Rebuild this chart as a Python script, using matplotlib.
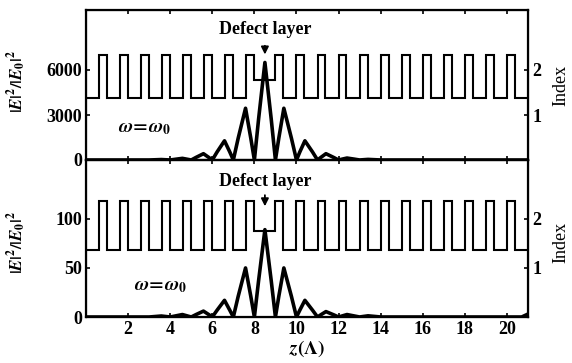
import numpy as np
import matplotlib.pyplot as plt

plt.rcParams['font.family'] = ['Liberation Serif', 'DejaVu Serif']
plt.rcParams['font.weight'] = 'bold'
plt.rcParams['mathtext.fontset'] = 'stix'

# layer stack: L/H quarter-wave pairs, one defect layer in the middle
layers = list("LH" * 8) + ["D"] + list("HL" * 12)
thick = {"L": 0.625, "H": 0.375, "D": 1.0}
index_top = {"L": 1.38, "H": 2.33, "D": 1.78}
index_bot = {"L": 1.37, "H": 2.37, "D": 1.76}

# field intensity
z_field = [0, 3, 3.23, 3.58, 3.83, 4, 4.23, 4.58, 4.83, 5, 5.23, 5.58, 5.83,
           6, 6.23, 6.58, 6.83, 7, 7.23, 7.58, 7.83, 8, 8.2, 8.5, 8.8,
           9, 9.16, 9.4, 9.76, 10, 10.16, 10.4, 10.76, 11, 11.16, 11.4, 11.76,
           12, 12.16, 12.4, 12.76, 13, 13.16, 13.4, 13.76, 14, 20.7, 21]
E_top = [0, 0, 12, 30, 12, 0, 45, 110, 45, 0, 175, 420, 175,
         0, 540, 1280, 540, 0, 1450, 3450, 1450, 0, 2730, 6500, 2730,
         0, 1450, 3450, 1450, 0, 540, 1280, 540, 0, 175, 420, 175,
         0, 55, 130, 55, 0, 17, 40, 17, 0, 0, 0]
E_bot = [0, 0, 0.4, 1, 0.4, 0, 1.0, 2.5, 1.0, 0, 2.5, 6, 2.5,
         0, 7, 17, 7, 0, 21, 50, 21, 0, 37, 89, 37,
         0, 21, 50, 21, 0, 7, 17, 7, 0, 2.3, 5.5, 2.3,
         0, 1.0, 2.5, 1.0, 0, 0.5, 1.2, 0.5, 0, 0, 3]

edges = np.concatenate([[0], np.cumsum([thick[s] for s in layers])])

W, H = 572, 363
fig = plt.figure(figsize=(W / 100, H / 100), dpi=100)
ax_t = fig.add_axes([86 / W, 1 - 160 / H, 442 / W, 150 / H])
ax_b = fig.add_axes([86 / W, 1 - 317 / H, 442 / W, 157 / H])


def panel(ax, E, ymax, yticks, nidx, idx_scale, show_x, txt_y, arr, omega_xy):
    ax.plot(z_field, E, color='k', lw=2.6, solid_joinstyle='round')
    ax.set_xlim(0, 21)
    ax.set_ylim(0, ymax)
    ax.set_yticks(yticks)
    ax.set_xticks(range(2, 21, 2))
    ax.tick_params(direction='in', length=3, width=1.2, top=True, labelsize=13, pad=3)
    if not show_x:
        ax.tick_params(labelbottom=False)
    for s in ax.spines.values():
        s.set_linewidth(1.6)

    ax2 = ax.twinx()
    ax2.stairs([nidx[s] for s in layers], edges, baseline=None, color='k', lw=1.5)
    ax2.set_ylim(0, ymax / idx_scale)
    ax2.set_yticks([1, 2])
    ax2.tick_params(direction='in', length=3, width=1.2, labelsize=13, pad=3)

    ax.text(8.5, txt_y, 'Defect layer', ha='center', va='center', fontsize=13)
    ax.annotate('', xy=(8.5, arr[1]), xytext=(8.5, arr[0]),
                arrowprops=dict(arrowstyle='-|>', color='k', lw=1.3, mutation_scale=11))
    ax.text(omega_xy[0], omega_xy[1], r'$\omega\!=\!\omega_0$', ha='left', va='center', fontsize=14)
    return ax2


panel(ax_t, E_top, 10000, [0, 3000, 6000], index_top, 3000, False,
      8670, (7800, 6850), (1.5, 2100))
panel(ax_b, E_bot, 160, [0, 50, 100], index_bot, 50, True,
      138, (127, 110), (2.3, 31))

ax_b.set_xlabel(r'$z(\mathit{\Lambda})$', fontsize=14, labelpad=0)

# axis titles placed by pixel centre
ylab = r'$|E|^2/|E_0|^2$'
fig.text(17 / W, 1 - 82 / H, ylab, rotation=90, ha='center', va='center', fontsize=12)
fig.text(17 / W, 1 - 243 / H, ylab, rotation=90, ha='center', va='center', fontsize=12)
fig.text(561 / W, 1 - 85 / H, 'Index', rotation=90, ha='center', va='center',
         fontsize=13, fontweight='normal')
fig.text(561 / W, 1 - 242 / H, 'Index', rotation=90, ha='center', va='center',
         fontsize=13, fontweight='normal')

fig.savefig('out.png', dpi=100)
